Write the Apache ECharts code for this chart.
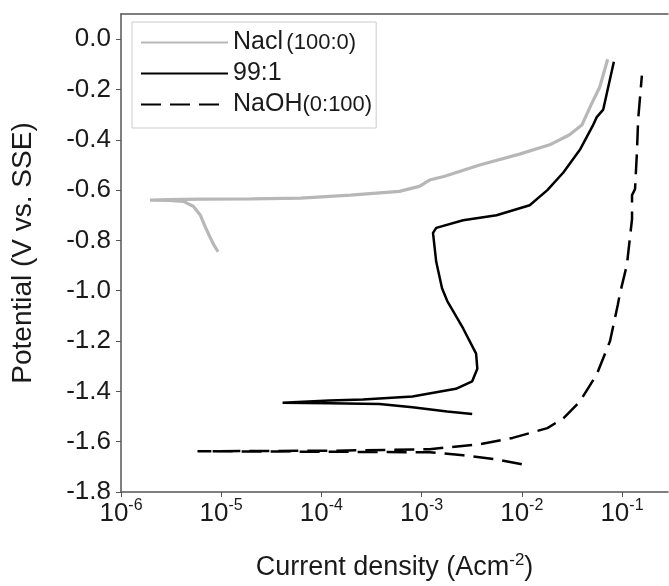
<!DOCTYPE html>
<html>
<head>
<meta charset="utf-8">
<script src="https://cdn.jsdelivr.net/npm/echarts@6/dist/echarts.min.js"></script>
<style>
  html, body { margin: 0; padding: 0; background: #fff; }
  #chart { width: 669px; height: 586px; }
</style>
</head>
<body>
<div id="chart"></div>
<script>
// tick labels
const xTicks = [1e-6, 1e-5, 1e-4, 1e-3, 1e-2, 1e-1]
const yTicks = [-1.8, -1.6, -1.4, -1.2, -1.0, -0.8, -0.6, -0.4, -0.2, 0.0]

// Nacl (100:0): current density (A/cm2) and potential (V vs. SSE)
const naclI = [9.3e-6, 8.5e-6, 7.8e-6, 7.0e-6, 6.2e-6, 5.3e-6, 4.2e-6, 3.0e-6, 1.95e-6,
  3.0e-6, 6.2e-6, 2e-5, 6.2e-5, 1.95e-4, 6.0e-4, 9.5e-4, 1.2e-3, 1.7e-3, 3.8e-3,
  9.5e-3, 0.019, 0.030, 0.040, 0.048, 0.060, 0.072]
const naclE = [-0.845, -0.82, -0.79, -0.75, -0.70, -0.665, -0.645, -0.641, -0.64,
  -0.638, -0.636, -0.635, -0.632, -0.62, -0.605, -0.585, -0.56, -0.545, -0.50,
  -0.457, -0.42, -0.38, -0.34, -0.27, -0.19, -0.08]

// 99:1
const mixI = [3.2e-3, 1.8e-3, 8.1e-4, 3.8e-4, 1.2e-4, 4.1e-5,
  1.2e-4, 2.6e-4, 8.1e-4, 2.2e-3, 3.2e-3, 3.6e-3, 3.5e-3, 2.6e-3, 1.8e-3, 1.6e-3,
  1.4e-3, 1.3e-3, 1.4e-3, 2.6e-3, 5.6e-3, 0.012, 0.018, 0.026, 0.038, 0.051,
  0.056, 0.065, 0.072, 0.083]
const mixE = [-1.49, -1.48, -1.463, -1.45, -1.447, -1.445,
  -1.436, -1.432, -1.42, -1.39, -1.36, -1.31, -1.25, -1.15, -1.04, -0.99,
  -0.885, -0.77, -0.75, -0.72, -0.70, -0.66, -0.60, -0.53, -0.44, -0.345,
  -0.31, -0.28, -0.20, -0.09]

// NaOH (0:100)
const naohI = [0.010, 5.6e-3, 2.6e-3, 1.2e-3, 1.2e-4, 5.8e-6,
  1.2e-4, 1.2e-3, 3.8e-3, 8.1e-3, 0.018, 0.026, 0.038, 0.056, 0.076, 0.091,
  0.095, 0.112, 0.126, 0.126, 0.135, 0.141, 0.145, 0.158]
const naohE = [-1.69, -1.67, -1.654, -1.642, -1.64, -1.638,
  -1.636, -1.63, -1.61, -1.585, -1.546, -1.507, -1.44, -1.333, -1.20, -1.055,
  -1.015, -0.897, -0.715, -0.62, -0.596, -0.45, -0.32, -0.145]

const legendLabels = {
  'Nacl': '{a|Nacl} {b|(100:0)}',
  '99:1': '{a|99:1}',
  'NaOH': '{a|NaOH}{b|(0:100)}'
}

const font = '"Liberation Sans", Arial, sans-serif'
const axisColor = '#555'
const textColor = '#1a1a1a'

const pairs = (xs, ys) => xs.map((x, i) => [x, ys[i]])

const chart = echarts.init(document.getElementById('chart'))

chart.setOption({
  animation: false,
  textStyle: { fontFamily: font },
  grid: { left: 121, right: 1, top: 14, bottom: 93 },
  legend: {
    orient: 'vertical',
    left: 132,
    top: 22,
    padding: [8, 4, 11, 8],
    itemWidth: 87,
    itemHeight: 14,
    itemGap: 6,
    itemTextGap: 8,
    borderColor: '#ccc',
    borderWidth: 1,
    itemStyle: { opacity: 0 },
    data: ['Nacl', '99:1', 'NaOH'],
    formatter: name => legendLabels[name],
    textStyle: {
      fontFamily: font,
      rich: {
        a: { fontSize: 25, lineHeight: 24, color: textColor, fontFamily: font },
        b: { fontSize: 22, lineHeight: 24, color: textColor, fontFamily: font }
      }
    }
  },
  xAxis: [
    {
      type: 'log',
      logBase: 10,
      min: 1e-6,
      max: 0.288,
      name: '{a|Current density (Acm}{s|-2}{a|)}',
      nameLocation: 'middle',
      nameGap: 60,
      nameTextStyle: {
        rich: {
          a: { fontSize: 27, color: textColor, fontFamily: font },
          s: { fontSize: 17, color: textColor, fontFamily: font, padding: [0, 0, 14, 0] }
        }
      },
      splitLine: { show: false },
      axisLine: { onZero: false, lineStyle: { color: axisColor, width: 1.5 } },
      axisTick: { customValues: xTicks, length: 5, lineStyle: { color: axisColor } },
      axisLabel: {
        customValues: xTicks,
        margin: 6,
        formatter: v => '{b|10}{s|' + Math.round(Math.log10(v)) + '}',
        rich: {
          b: { fontSize: 26, color: textColor, fontFamily: font },
          s: { fontSize: 16, color: textColor, fontFamily: font, padding: [0, 0, 15, 0] }
        }
      }
    },
    {
      type: 'log',
      logBase: 10,
      min: 1e-6,
      max: 0.288,
      position: 'top',
      axisLine: { show: true, onZero: false, lineStyle: { color: axisColor, width: 1.5 } },
      axisTick: { show: false },
      axisLabel: { show: false },
      splitLine: { show: false }
    }
  ],
  yAxis: {
    type: 'value',
    min: -1.8,
    max: 0.1,
    name: 'Potential (V vs. SSE)',
    nameLocation: 'middle',
    nameGap: 84,
    nameTextStyle: { fontSize: 28, color: textColor, fontFamily: font },
    splitLine: { show: false },
    axisLine: { show: true, onZero: false, lineStyle: { color: axisColor, width: 1.5 } },
    axisTick: { show: true, customValues: yTicks, length: 5, lineStyle: { color: axisColor } },
    axisLabel: {
      customValues: yTicks,
      fontSize: 26,
      color: textColor,
      fontFamily: font,
      margin: 10,
      formatter: v => v.toFixed(1)
    }
  },
  series: [
    {
      name: 'Nacl',
      type: 'line',
      symbol: 'none',
      data: pairs(naclI, naclE),
      lineStyle: { color: '#b7b7b7', width: 3.2 },
      itemStyle: { color: '#b7b7b7' }
    },
    {
      name: '99:1',
      type: 'line',
      symbol: 'none',
      data: pairs(mixI, mixE),
      lineStyle: { color: '#000', width: 2.5 },
      itemStyle: { color: '#000' }
    },
    {
      name: 'NaOH',
      type: 'line',
      symbol: 'none',
      data: pairs(naohI, naohE),
      lineStyle: { color: '#000', width: 2.5, type: [20, 9] },
      itemStyle: { color: '#000' }
    }
  ]
})
</script>
</body>
</html>
